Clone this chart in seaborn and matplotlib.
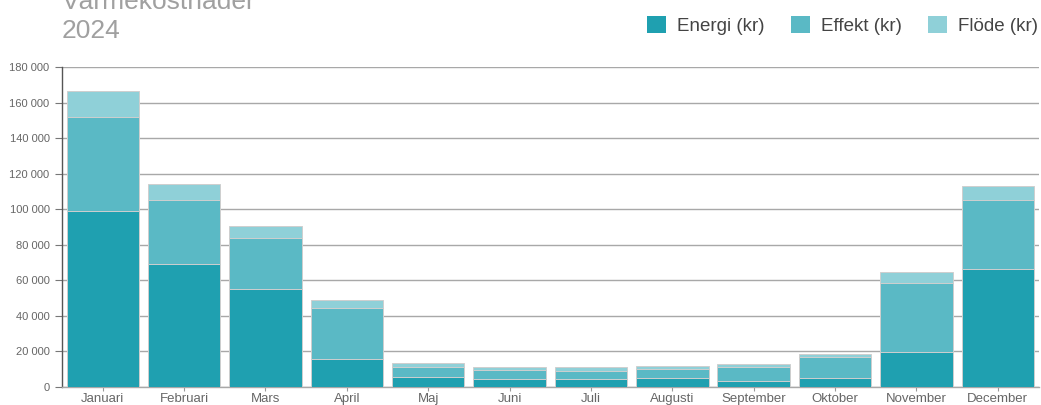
import numpy as np
import pandas as pd
import matplotlib
matplotlib.use("Agg")
import matplotlib.pyplot as plt
from matplotlib.patches import Patch
from matplotlib.ticker import FuncFormatter
import seaborn as sns

# monthly heating costs 2024 (kr)
months = ['Januari', 'Februari', 'Mars', 'April', 'Maj', 'Juni', 'Juli',
          'Augusti', 'September', 'Oktober', 'November', 'December']
energi = [99000, 69000, 55000, 15700, 5500, 4500, 4500, 5300, 3600, 5300, 19500, 66400]
effekt = [52900, 36000, 29000, 28700, 5500, 5000, 4700, 4800, 7800, 11400, 38800, 38600]
flode = [14600, 9000, 6500, 4600, 2300, 1500, 1800, 1700, 1700, 1700, 6200, 8200]

colors = {'Energi (kr)': '#1fa0b0', 'Effekt (kr)': '#5ab9c5', 'Flöde (kr)': '#8fd0d8'}

df = pd.DataFrame({'month': months, 'energi': energi, 'effekt': effekt, 'flode': flode})
df['lvl1'] = df['energi']
df['lvl2'] = df['energi'] + df['effekt']
df['lvl3'] = df['lvl2'] + df['flode']

sns.set_theme(style='white')
plt.rcParams['font.family'] = ['Liberation Sans', 'DejaVu Sans']

fig = plt.figure(figsize=(10.41, 4.05), dpi=100)
ax = fig.add_axes([0.0596, 0.0444, 0.938, 0.7902])

# stacked bars: draw cumulative totals back to front
for col, name in [('lvl3', 'Flöde (kr)'), ('lvl2', 'Effekt (kr)'), ('lvl1', 'Energi (kr)')]:
    sns.barplot(data=df, x='month', y=col, color=colors[name], saturation=1,
                width=0.89, edgecolor='#cfcfcf', linewidth=0.7, ax=ax, zorder=3)

ax.set_xlim(-0.5, 11.5)
ax.set_ylim(0, 180000)
ax.set_yticks(np.arange(0, 180001, 20000))
ax.yaxis.set_major_formatter(FuncFormatter(lambda v, p: f'{int(v):,}'.replace(',', ' ')))
ax.set_xlabel('')
ax.set_ylabel('')

ax.yaxis.grid(True, color='#a8a8a8', linewidth=1.0, zorder=0)
ax.xaxis.grid(False)
for s in ['top', 'right']:
    ax.spines[s].set_visible(False)
ax.spines['left'].set_color('#555555')
ax.spines['left'].set_linewidth(1.0)
ax.spines['bottom'].set_color('#a8a8a8')
ax.spines['bottom'].set_linewidth(1.0)

ax.tick_params(axis='y', left=True, length=5, width=0.8, color='#777777',
               labelsize=8, labelcolor='#666666', pad=4)
ax.tick_params(axis='x', bottom=True, length=3, width=0.8, color='#999999',
               labelsize=9.5, labelcolor='#666666', pad=1)

# title (first line is cut by the top edge, as in the reference)
fig.text(62 / 1041, 1 - 9 / 405, 'Värmekostnader', fontsize=19, color='#a0a0a0',
         ha='left', va='baseline')
fig.text(62 / 1041, 1 - 38 / 405, '2024', fontsize=19, color='#a0a0a0',
         ha='left', va='baseline')

handles = [Patch(facecolor=colors[n], edgecolor='none', label=n)
           for n in ['Energi (kr)', 'Effekt (kr)', 'Flöde (kr)']]
fig.legend(handles=handles, loc='upper right', bbox_to_anchor=(1 - 3 / 1041, 1 - 16 / 405),
           ncol=3, frameon=False, fontsize=13.5, labelcolor='#444444', handlelength=1.0,
           handleheight=1.0, handletextpad=0.6, columnspacing=1.4, borderaxespad=0,
           borderpad=0)

fig.savefig('out.png', dpi=100)
